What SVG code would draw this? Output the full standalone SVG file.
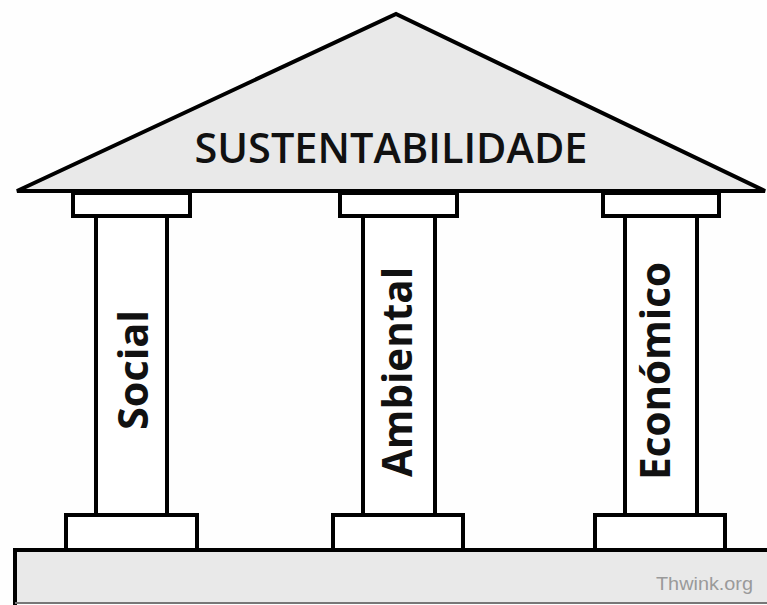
<svg xmlns="http://www.w3.org/2000/svg" width="767" height="605" viewBox="0 0 767 605">
<style>
.o{stroke:#000;stroke-width:4;fill:#fff}
.g{fill:#e9e9e9}
.t{font-family:"Open Sans","DejaVu Sans",sans-serif;font-weight:700;fill:#111}
.h{font-weight:600}
.w{font-family:"Liberation Sans",Arial,sans-serif;fill:#9a9a9a}
</style>
<rect width="767" height="605" fill="#fefefe"/>
<g id="platform">
<rect x="15" y="550" width="760" height="53" class="g"/>
<polyline points="15,605 15,550 775,550" fill="none" stroke="#000" stroke-width="4"/>
<line x1="15" y1="603" x2="767" y2="603" stroke="#777" stroke-width="2"/>
<text class="w" x="753" y="590" font-size="18" text-anchor="end" textLength="97" lengthAdjust="spacingAndGlyphs">Thwink.org</text>
</g>
<g id="roof">
<polygon points="17,191 396,14 765,191" class="o" style="fill:#e9e9e9" stroke-linejoin="miter"/>
<text class="t h" x="391" y="163" font-size="42" text-anchor="middle" textLength="393" lengthAdjust="spacingAndGlyphs">SUSTENTABILIDADE</text>
</g>
<g id="social">
<rect x="73" y="193" width="117" height="23" class="o"/>
<rect x="96" y="216" width="71" height="299" class="o"/>
<rect x="66" y="515" width="131" height="35" class="o"/>
<text class="t" transform="translate(148,370) rotate(-90)" x="0" y="0" font-size="41" text-anchor="middle" textLength="120" lengthAdjust="spacingAndGlyphs">Social</text>
</g>
<g id="ambiental">
<rect x="340" y="193" width="117" height="23" class="o"/>
<rect x="363" y="216" width="72" height="299" class="o"/>
<rect x="333" y="515" width="130" height="35" class="o"/>
<text class="t" transform="translate(412,372) rotate(-90)" x="0" y="0" font-size="41" text-anchor="middle" textLength="210" lengthAdjust="spacingAndGlyphs">Ambiental</text>
</g>
<g id="economico">
<rect x="603" y="193" width="116" height="23" class="o"/>
<rect x="625" y="216" width="72" height="299" class="o"/>
<rect x="595" y="515" width="130" height="35" class="o"/>
<text class="t" transform="translate(670,371) rotate(-90)" x="0" y="0" font-size="41" text-anchor="middle" textLength="218" lengthAdjust="spacingAndGlyphs">Económico</text>
</g>
<g id="connectors"></g>
</svg>
